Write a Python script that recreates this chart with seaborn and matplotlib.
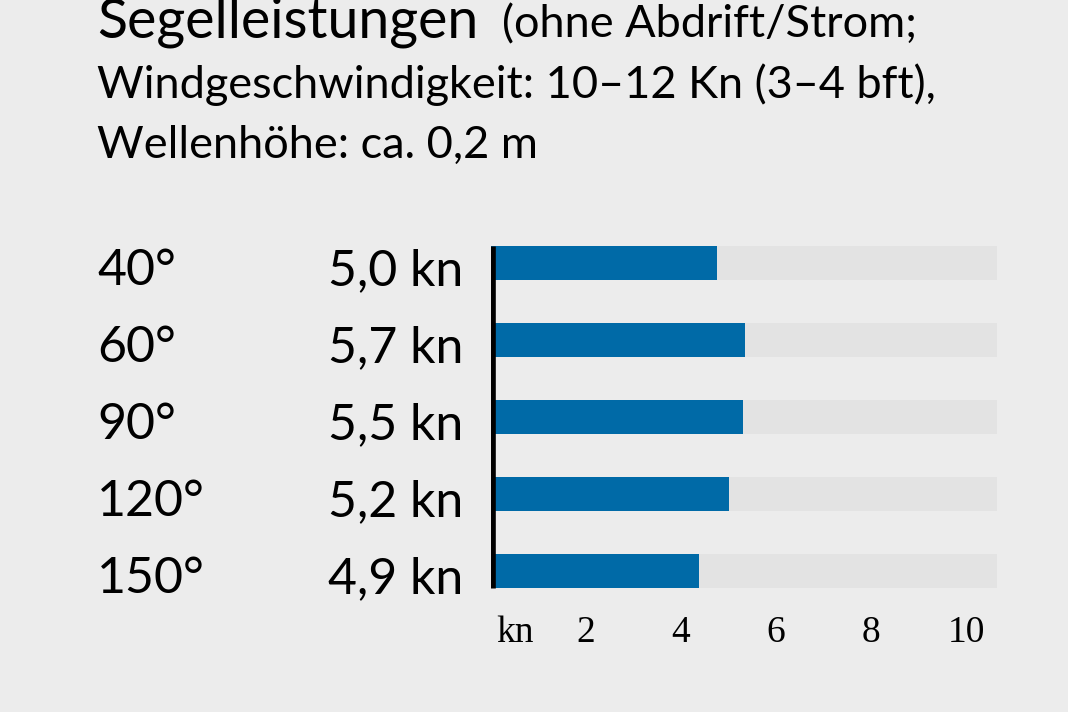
import matplotlib
matplotlib.use('Agg')
import matplotlib.pyplot as plt
import matplotlib.transforms as mtransforms
import seaborn as sns
import pandas as pd

# Daten
angles = ['40°', '60°', '90°', '120°', '150°']
speed_labels = ['5,0 kn', '5,7 kn', '5,5 kn', '5,2 kn', '4,9 kn']
bar_kn = [4.76, 5.35, 5.31, 5.01, 4.38]   # Balkenlänge wie gezeichnet
scale_max = 10.65
tick_vals = [0.5, 2, 4, 6, 8, 10]
tick_labels = ['kn', '2', '4', '6', '8', '10']

title_main = 'Segelleistungen'
title_rest = '(ohne Abdrift/Strom;'
sub_lines = ['Windgeschwindigkeit: 10–12 Kn (3–4 bft),', 'Wellenhöhe: ca. 0,2 m']

BG = '#ececec'
TRACK = '#e3e3e3'
BLUE = '#006aa7'

sns.set_theme(style='white')
plt.rcParams['font.family'] = ['Lato', 'DejaVu Sans']

W, H = 1068, 712
fig = plt.figure(figsize=(W / 100, H / 100), dpi=100, facecolor=BG)
ax = fig.add_axes([491 / W, (H - 609.5) / H, (997 - 491) / W, 385 / H])
ax.set_facecolor(BG)

df = pd.DataFrame({'winkel': angles, 'speed': bar_kn, 'track': [scale_max] * len(angles)})
sns.barplot(data=df, x='track', y='winkel', color=TRACK, width=0.44, saturation=1,
            errorbar=None, linewidth=0, ax=ax)
sns.barplot(data=df, x='speed', y='winkel', color=BLUE, width=0.44, saturation=1,
            errorbar=None, linewidth=0, ax=ax)

ax.plot([0, 0], [-0.22, len(angles) - 1 + 0.22], color='black', lw=6.2,
        solid_capstyle='butt', zorder=5)

ax.set_xlim(0, scale_max)
ax.set_ylim(len(angles) - 0.5, -0.5)
ax.set_xlabel('')
ax.set_ylabel('')
ax.set_yticks([])
ax.set_xticks(tick_vals, tick_labels, fontfamily='Liberation Serif', fontsize=27)
ax.tick_params(axis='x', length=0, pad=4, colors='black')
for sp in ax.spines.values():
    sp.set_visible(False)

# Beschriftung links, Grundlinie knapp unter der Balkenunterkante
trans = mtransforms.blended_transform_factory(fig.transFigure, ax.transData)
trans = mtransforms.offset_copy(trans, fig=fig, y=-22, units='dots')
for i, (a, s) in enumerate(zip(angles, speed_labels)):
    ax.text(97 / W, i, a, transform=trans, ha='left', va='baseline', fontsize=36, color='black')
    ax.text(463 / W, i, s, transform=trans, ha='right', va='baseline', fontsize=36, color='black')

# Titel
t1 = fig.text(97 / W, 1 - 37 / H, title_main, fontsize=40, va='baseline', color='black')
fig.canvas.draw()
bb = t1.get_window_extent()
fig.text((bb.x1 + 24) / W, 1 - 37 / H, title_rest, fontsize=32.5, va='baseline', color='black')
fig.text(97 / W, 1 - 98 / H, sub_lines[0], fontsize=32.5, va='baseline', color='black')
fig.text(97 / W, 1 - 158 / H, sub_lines[1], fontsize=32.5, va='baseline', color='black')

fig.savefig('out.png', dpi=100, facecolor=BG)
